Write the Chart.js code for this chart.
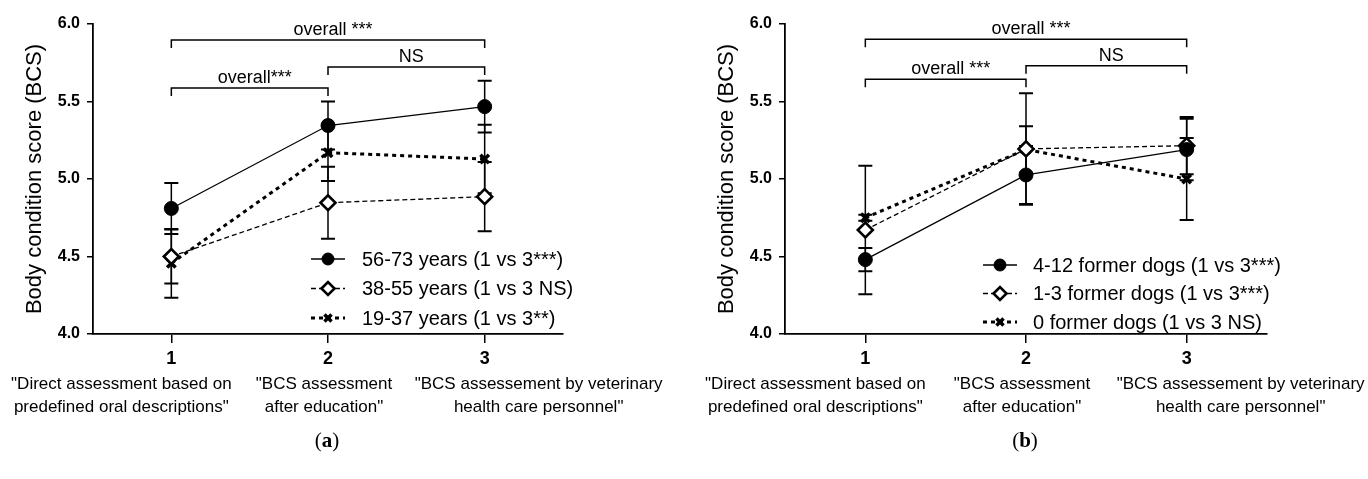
<!DOCTYPE html>
<html>
<head>
<meta charset="utf-8">
<title>Body condition score by assessment method</title>
<script src="https://cdn.jsdelivr.net/npm/chart.js@4.4.1/dist/chart.umd.min.js"></script>
<style>
  body { margin: 0; background: #fff; }
  #wrap { position: relative; width: 1368px; height: 479px; }
  .panel { position: absolute; top: 0; width: 684px; height: 479px; }
  .caption {
    position: absolute; top: 428px; width: 80px; text-align: center;
    font: 21px "Liberation Serif", "DejaVu Serif", serif; color: #000;
  }
</style>
</head>
<body>
<div id="wrap">
  <div class="panel" style="left:0"><canvas id="chartA" width="684" height="479"></canvas></div>
  <div class="panel" style="left:684px"><canvas id="chartB" width="684" height="479"></canvas></div>
  <div class="caption" style="left:287px">(<b>a</b>)</div>
  <div class="caption" style="left:985px">(<b>b</b>)</div>
</div>
<script>
// x axis: assessment stages
const stageTicks = [1, 2, 3];
const stageLabels = [
  ['"Direct assessment based on', 'predefined oral descriptions"'],
  ['"BCS assessment', 'after education"'],
  ['"BCS assessement by veterinary', 'health care personnel"']
];
const yTicks = [4.0, 4.5, 5.0, 5.5, 6.0];
const yTitle = 'Body condition score (BCS)';

// panel (a): owner age groups (mean and error)
const ageNames = ['56-73 years (1 vs 3***)', '38-55 years (1 vs 3 NS)', '19-37 years (1 vs 3**)'];
const age5673 = [4.81, 5.345, 5.467];
const age5673Err = [0.165, 0.155, 0.167];
const age3855 = [4.50, 4.847, 4.886];
const age3855Err = [0.174, 0.232, 0.223];
const age1937 = [4.456, 5.17, 5.129];
const age1937Err = [0.222, 0.183, 0.221];

const ageBracketFrom = [1, 1, 2];
const ageBracketTo = [3, 2, 3];
const ageBracketY = [5.897, 5.587, 5.723];
const ageBracketText = ['overall ***', 'overall***', 'NS'];

// panel (b): number of former dogs
const dogNames = ['4-12 former dogs (1 vs 3***)', '1-3 former dogs (1 vs 3***)', '0 former dogs (1 vs 3 NS)'];
const dogs412 = [4.48, 5.026, 5.19];
const dogs412Err = [0.075, 0.187, 0.198];
const dogs13 = [4.671, 5.194, 5.215];
const dogs13Err = [0.415, 0.36, 0.185];
const dogs0 = [4.75, 5.19, 5.0];
const dogs0Err = [0.02, 0.15, 0.265];

const dogBracketFrom = [1, 1, 2];
const dogBracketTo = [3, 2, 3];
const dogBracketY = [5.901, 5.643, 5.731];
const dogBracketText = ['overall ***', 'overall ***', 'NS'];

const FONT = '"Liberation Sans", Arial, Helvetica, sans-serif';
Chart.defaults.font.family = FONT;
Chart.defaults.color = '#000';

// line + marker styles for the three groups in each panel
const seriesStyles = [
  { pointStyle: 'circle', pointRadius: 7, pointBackgroundColor: '#000', pointBorderWidth: 1, borderWidth: 1.3, borderDash: [] },
  { pointStyle: 'rectRot', pointRadius: 7.5, pointBackgroundColor: '#fff', pointBorderWidth: 2.6, borderWidth: 1.3, borderDash: [5, 3] },
  { pointStyle: 'crossRot', pointRadius: 6, pointBackgroundColor: '#000', pointBorderWidth: 3.5, borderWidth: 3, borderDash: [4, 4] }
];

// the stage descriptions sit spread out, not centred on their ticks (px)
const labelShift = [-50, -4, 54];

const toPoints = (values) => values.map((v, i) => ({ x: stageTicks[i], y: v }));

const drawMarker = (ctx, style, x, y, radius) => {
  ctx.save();
  ctx.fillStyle = style.pointBackgroundColor;
  ctx.strokeStyle = '#000';
  ctx.lineWidth = style.pointBorderWidth;
  ctx.setLineDash([]);
  Chart.helpers.drawPoint(ctx, {
    pointStyle: style.pointStyle, rotation: 0, radius: radius, borderWidth: style.pointBorderWidth
  }, x, y);
  ctx.restore();
};

// error bars drawn under the markers
const errorBarPlugin = {
  id: 'errorBars',
  beforeDatasetsDraw(chart) {
    const ctx = chart.ctx;
    const xs = chart.scales.x;
    const ys = chart.scales.y;
    ctx.save();
    ctx.strokeStyle = '#000';
    ctx.setLineDash([]);
    chart.data.datasets.forEach((ds) => {
      ds.data.forEach((p, i) => {
        const x = xs.getPixelForValue(p.x);
        const top = ys.getPixelForValue(p.y + ds.errors[i]);
        const bot = ys.getPixelForValue(p.y - ds.errors[i]);
        ctx.lineWidth = 1.5;
        ctx.beginPath();
        ctx.moveTo(x, top);
        ctx.lineTo(x, bot);
        ctx.stroke();
        ctx.lineWidth = 2;
        ctx.beginPath();
        ctx.moveTo(x - 7, top);
        ctx.lineTo(x + 7, top);
        ctx.moveTo(x - 7, bot);
        ctx.lineTo(x + 7, bot);
        ctx.stroke();
      });
    });
    ctx.restore();
  }
};

const makePanel = (canvasId, cfg) => {
  // significance brackets above the lines
  const bracketPlugin = {
    id: 'brackets',
    afterDatasetsDraw(chart) {
      const ctx = chart.ctx;
      const xs = chart.scales.x;
      const ys = chart.scales.y;
      ctx.save();
      ctx.strokeStyle = '#000';
      ctx.fillStyle = '#000';
      ctx.lineWidth = 1.5;
      ctx.font = '18px ' + FONT;
      ctx.textAlign = 'center';
      ctx.textBaseline = 'alphabetic';
      cfg.bracketFrom.forEach((from, i) => {
        const x1 = xs.getPixelForValue(from);
        const x2 = xs.getPixelForValue(cfg.bracketTo[i]);
        const y = ys.getPixelForValue(cfg.bracketY[i]);
        ctx.beginPath();
        ctx.moveTo(x1, y + 8);
        ctx.lineTo(x1, y);
        ctx.lineTo(x2, y);
        ctx.lineTo(x2, y + 8);
        ctx.stroke();
        ctx.fillText(cfg.bracketText[i], (x1 + x2) / 2 + 5, y - 5);
      });
      ctx.restore();
    }
  };

  // descriptive text under the numbered stages + legend inside the plot
  const labelPlugin = {
    id: 'stageLegend',
    afterDraw(chart) {
      const ctx = chart.ctx;
      const xs = chart.scales.x;
      const bottom = chart.chartArea.bottom;
      ctx.save();
      ctx.fillStyle = '#000';
      ctx.font = '17px ' + FONT;
      ctx.textAlign = 'center';
      ctx.textBaseline = 'middle';
      stageTicks.forEach((t, i) => {
        const x = xs.getPixelForValue(t) + labelShift[i];
        stageLabels[i].forEach((line, k) => ctx.fillText(line, x, bottom + 50 + k * 23));
      });

      const lg = cfg.legend;
      ctx.font = '20px ' + FONT;
      chart.data.datasets.forEach((ds, i) => {
        const st = seriesStyles[i];
        const y = lg.y + i * lg.rowGap;
        ctx.save();
        ctx.strokeStyle = '#000';
        ctx.lineWidth = st.borderWidth;
        ctx.setLineDash(st.borderDash);
        ctx.beginPath();
        ctx.moveTo(lg.x - 17, y);
        ctx.lineTo(lg.x + 17, y);
        ctx.stroke();
        ctx.restore();
        drawMarker(ctx, st, lg.x, y, st.pointRadius - 1);
        ctx.textAlign = 'left';
        ctx.fillText(ds.label, lg.x + lg.textGap, y + 1);
      });
      ctx.restore();
    }
  };

  const datasets = cfg.series.map((s, i) => Object.assign({
    label: cfg.names[i],
    data: toPoints(s.values),
    errors: s.errors,
    borderColor: '#000',
    pointBorderColor: '#000',
    showLine: true,
    fill: false,
    tension: 0,
    clip: false
  }, seriesStyles[i]));

  return new Chart(document.getElementById(canvasId), {
    type: 'line',
    data: { datasets },
    options: {
      responsive: false,
      animation: false,
      events: [],
      layout: { padding: { top: 24, right: 684 - cfg.axisRight, left: 0, bottom: 0 } },
      plugins: { legend: { display: false }, tooltip: { enabled: false } },
      scales: {
        x: {
          type: 'linear',
          min: 0.5,
          max: 3.5,
          afterBuildTicks: (scale) => { scale.ticks = stageTicks.map(v => ({ value: v })); },
          afterFit: (scale) => { scale.height = 145; },
          ticks: { font: { size: 18, weight: 'bold' }, padding: 5, callback: (v) => String(v) },
          grid: { drawOnChartArea: false, drawTicks: true, tickLength: 9, color: '#000', lineWidth: 1.5 },
          border: { color: '#000', width: 1.8 }
        },
        y: {
          min: 4,
          max: 6,
          afterBuildTicks: (scale) => { scale.ticks = yTicks.map(v => ({ value: v })); },
          afterFit: (scale) => { scale.width = cfg.axisLeft; },
          ticks: { font: { size: 16, weight: 'bold' }, padding: 7, callback: (v) => v.toFixed(1) },
          grid: { drawOnChartArea: false, drawTicks: true, tickLength: 6, color: '#000', lineWidth: 1.5 },
          border: { color: '#000', width: 1.8 },
          title: { display: true, text: yTitle, font: { size: 22 }, padding: { top: cfg.titleOffset, bottom: 0 } }
        }
      }
    },
    plugins: [errorBarPlugin, bracketPlugin, labelPlugin]
  });
};

makePanel('chartA', {
  names: ageNames,
  series: [
    { values: age5673, errors: age5673Err },
    { values: age3855, errors: age3855Err },
    { values: age1937, errors: age1937Err }
  ],
  bracketFrom: ageBracketFrom, bracketTo: ageBracketTo, bracketY: ageBracketY, bracketText: ageBracketText,
  axisLeft: 93, axisRight: 563, titleOffset: 22,
  legend: { x: 328, y: 259, rowGap: 29.5, textGap: 34 }
});

makePanel('chartB', {
  names: dogNames,
  series: [
    { values: dogs412, errors: dogs412Err },
    { values: dogs13, errors: dogs13Err },
    { values: dogs0, errors: dogs0Err }
  ],
  bracketFrom: dogBracketFrom, bracketTo: dogBracketTo, bracketY: dogBracketY, bracketText: dogBracketText,
  axisLeft: 101, axisRight: 583, titleOffset: 30,
  legend: { x: 316, y: 265, rowGap: 28.5, textGap: 33 }
});
</script>
</body>
</html>
